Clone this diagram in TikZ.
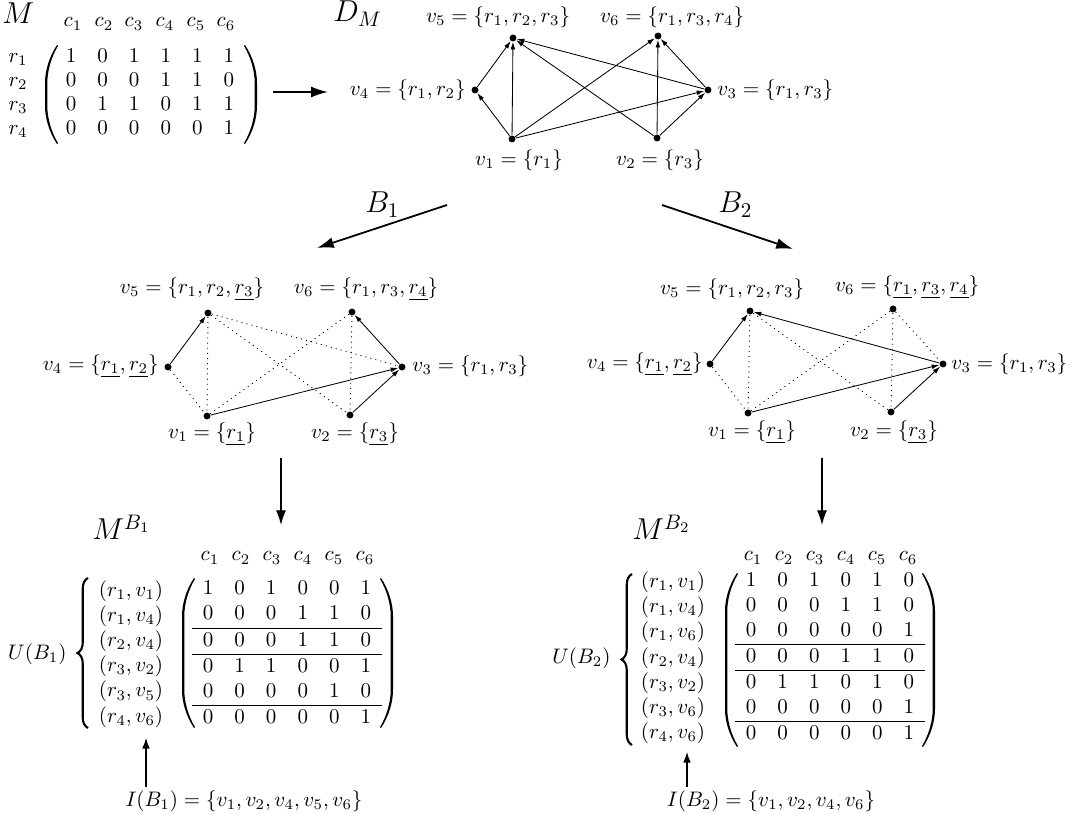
\documentclass[tikz,border=0pt]{standalone}
\usetikzlibrary{arrows.meta,decorations.pathreplacing}
% left / right parenthesis drawn as filled shapes: #1 outer x, #2 top y, #3 bottom y
\newcommand{\lparenat}[3]{%
  \fill (#1+12,#2) .. controls (#1+4,#2+12) and (#1,#2+26) .. (#1,#2+38)
    -- (#1,#3-38) .. controls (#1,#3-26) and (#1+4,#3-12) .. (#1+12,#3)
    -- (#1+13,#3-0.9) .. controls (#1+6.3,#3-12) and (#1+2.3,#3-26) .. (#1+2.3,#3-38)
    -- (#1+2.3,#2+38) .. controls (#1+2.3,#2+26) and (#1+6.3,#2+12) .. (#1+13,#2+0.9) -- cycle;}
\newcommand{\rparenat}[3]{%
  \fill (#1-12,#2) .. controls (#1-4,#2+12) and (#1,#2+26) .. (#1,#2+38)
    -- (#1,#3-38) .. controls (#1,#3-26) and (#1-4,#3-12) .. (#1-12,#3)
    -- (#1-13,#3-0.9) .. controls (#1-6.3,#3-12) and (#1-2.3,#3-26) .. (#1-2.3,#3-38)
    -- (#1-2.3,#2+38) .. controls (#1-2.3,#2+26) and (#1-6.3,#2+12) .. (#1-13,#2+0.9) -- cycle;}
\begin{document}
\begin{tikzpicture}[x=0.476pt,y=-0.476pt,
  vtx/.style={circle,fill=black,inner sep=0pt,minimum size=3.3pt},
  lbl/.style={inner sep=0pt},
  arc/.style={-{Latex[length=3.6pt,width=2.3pt]},line width=0.4pt},
  dotedge/.style={dotted,line width=0.45pt},
  bigarrow/.style={-{Latex[length=8pt,width=5.2pt]},line width=0.85pt},
  downarrow/.style={-{Latex[length=7pt,width=4.8pt]},line width=0.6pt},
  uparrow/.style={-{Latex[length=5pt,width=3.6pt]},line width=0.5pt},
  curly/.style={decorate,decoration={brace,amplitude=5pt,aspect=0.5},line width=1pt},
  biglbl/.style={inner sep=0pt,font=\Large}]
\useasboundingbox (0,0) rectangle (1074,814);

% ---------- top matrix M ----------
\node[biglbl,anchor=base west] (Mlbl) at (2,24) {$M$};
\foreach \i/\x in {1/73,2/104,3/134,4/165,5/196,6/226}
  \node[lbl] (mc\i) at (\x,24) {$c_{\i}$};
\node[lbl] (M0r) at (18,93.5) {\renewcommand\arraystretch{0.95}$\begin{array}{c}r_1\\ r_2\\ r_3\\ r_4\end{array}$};
\node[lbl] (M0) at (150,93.5) {\renewcommand\arraystretch{0.95}$\begin{array}{cccccc}
1&0&1&1&1&1\\ 0&0&0&1&1&0\\ 0&1&1&0&1&1\\ 0&0&0&0&0&1\end{array}$};
\lparenat{45}{45}{144}
\rparenat{257}{45}{144}
\coordinate (aMs) at (273,92);
\coordinate (aMe) at (328,92);
\draw[bigarrow] (aMs) -- (aMe);

% ---------- D_M ----------
\node[biglbl,anchor=base west] (DMlbl) at (333,22) {$D_M$};
\node[vtx] (a5) at (513,38) {};
\node[vtx] (a6) at (658,36) {};
\node[vtx] (a4) at (475,90) {};
\node[vtx] (a3) at (708,90) {};
\node[vtx] (a1) at (512,139) {};
\node[vtx] (a2) at (657,138) {};
\node[lbl] (la5) at (498,17) {$v_5=\{r_1,r_2,r_3\}$};
\node[lbl] (la6) at (672,17) {$v_6=\{r_1,r_3,r_4\}$};
\node[lbl,anchor=east] (la4) at (466,90) {$v_4=\{r_1,r_2\}$};
\node[lbl,anchor=west] (la3) at (717,90) {$v_3=\{r_1,r_3\}$};
\node[lbl] (la1) at (519,160) {$v_1=\{r_1\}$};
\node[lbl] (la2) at (660,160) {$v_2=\{r_3\}$};
\draw[arc] (a4) -- (a5);
\draw[arc] (a1) -- (a4);
\draw[arc] (a1) -- (a5);
\draw[arc] (a1) -- (a6);
\draw[arc] (a1) -- (a3);
\draw[arc] (a2) -- (a5);
\draw[arc] (a2) -- (a6);
\draw[arc] (a2) -- (a3);
\draw[arc] (a3) -- (a5);
\draw[arc] (a3) -- (a6);

% ---------- branch arrows ----------
\coordinate (b1s) at (447,205);
\coordinate (b1e) at (317,248);
\coordinate (b2s) at (662,205);
\coordinate (b2e) at (793,249);
\draw[bigarrow] (b1s) -- (b1e);
\draw[bigarrow] (b2s) -- (b2e);
\node[biglbl,anchor=base west] (B1lbl) at (365,213) {$B_1$};
\node[biglbl,anchor=base west] (B2lbl) at (718,213) {$B_2$};

% ---------- graph B1 ----------
\node[vtx] (p5) at (208,313) {};
\node[vtx] (p6) at (352,312) {};
\node[vtx] (p4) at (168,367) {};
\node[vtx] (p3) at (402,367) {};
\node[vtx] (p1) at (207,416) {};
\node[vtx] (p2) at (350,415) {};
\node[lbl] (lp5) at (192,289) {$v_5=\{r_1,r_2,\underline{r_3}\}$};
\node[lbl] (lp6) at (366,289) {$v_6=\{r_1,r_3,\underline{r_4}\}$};
\node[lbl,anchor=east] (lp4) at (159,366) {$v_4=\{\underline{r_1},\underline{r_2}\}$};
\node[lbl,anchor=west] (lp3) at (412,366) {$v_3=\{r_1,r_3\}$};
\node[lbl] (lp1) at (212,434) {$v_1=\{\underline{r_1}\}$};
\node[lbl] (lp2) at (355,434) {$v_2=\{\underline{r_3}\}$};
\draw[arc] (p4) -- (p5);
\draw[arc] (p1) -- (p3);
\draw[arc] (p2) -- (p3);
\draw[arc] (p3) -- (p6);
\draw[dotedge] (p5) -- (p1);
\draw[dotedge] (p5) -- (p3);
\draw[dotedge] (p5) -- (p2);
\draw[dotedge] (p4) -- (p1);
\draw[dotedge] (p1) -- (p6);
\draw[dotedge] (p6) -- (p2);

% ---------- graph B2 ----------
\node[vtx] (q5) at (750,311) {};
\node[vtx] (q6) at (893,309) {};
\node[vtx] (q4) at (710,364) {};
\node[vtx] (q3) at (943,364) {};
\node[vtx] (q1) at (748,413) {};
\node[vtx] (q2) at (891,412) {};
\node[lbl] (lq5) at (732,289) {$v_5=\{r_1,r_2,r_3\}$};
\node[lbl] (lq6) at (907,287) {$v_6=\{\underline{r_1},\underline{r_3},\underline{r_4}\}$};
\node[lbl,anchor=east] (lq4) at (703,364) {$v_4=\{\underline{r_1},\underline{r_2}\}$};
\node[lbl,anchor=west] (lq3) at (951,364) {$v_3=\{r_1,r_3\}$};
\node[lbl] (lq1) at (752,432) {$v_1=\{\underline{r_1}\}$};
\node[lbl] (lq2) at (894,432) {$v_2=\{\underline{r_3}\}$};
\draw[arc] (q4) -- (q5);
\draw[arc] (q3) -- (q5);
\draw[arc] (q1) -- (q3);
\draw[arc] (q2) -- (q3);
\draw[dotedge] (q4) -- (q1);
\draw[dotedge] (q5) -- (q1);
\draw[dotedge] (q5) -- (q2);
\draw[dotedge] (q1) -- (q6);
\draw[dotedge] (q6) -- (q2);
\draw[dotedge] (q6) -- (q3);

% ---------- down arrows ----------
\coordinate (d1s) at (281,458);
\coordinate (d1e) at (281,525);
\coordinate (d2s) at (822,458);
\coordinate (d2e) at (822,525);
\draw[downarrow] (d1s) -- (d1e);
\draw[downarrow] (d2s) -- (d2e);

% ---------- matrix M^{B1} ----------
\node[biglbl,anchor=base west] (MB1lbl) at (92,540) {$M^{B_1}$};
\foreach \i/\x in {1/210,2/241,3/272,4/303,5/334,6/365}
  \node[lbl] (m1c\i) at (\x,558) {$c_{\i}$};
\node[lbl,anchor=east] (UB1) at (67,654) {$U(B_1)$};
\node[lbl] (MB1r) at (131,654) {$\begin{array}{c}
(r_1,v_1)\\ (r_1,v_4)\\ (r_2,v_4)\\ (r_3,v_2)\\ (r_3,v_5)\\ (r_4,v_6)\end{array}$};
\coordinate (br1b) at (88,728);
\coordinate (br1t) at (88,578);
\draw[curly] (br1b) -- (br1t);
\node[lbl] (MB1) at (287,654) {$\begin{array}{cccccc}
1&0&1&0&0&1\\ 0&0&0&1&1&0\\ \hline 0&0&0&1&1&0\\ \hline 0&1&1&0&0&1\\ 0&0&0&0&1&0\\ \hline 0&0&0&0&0&1\end{array}$};
\lparenat{182}{578}{728}
\rparenat{393}{578}{728}
\node[lbl] (IB1) at (244,801) {$I(B_1)=\{v_1,v_2,v_4,v_5,v_6\}$};
\coordinate (u1s) at (146,787);
\coordinate (u1e) at (146,738);
\draw[uparrow] (u1s) -- (u1e);

% ---------- matrix M^{B2} ----------
\node[biglbl,anchor=base west] (MB2lbl) at (632,540) {$M^{B_2}$};
\foreach \i/\x in {1/753,2/784,3/815,4/846,5/877,6/908}
  \node[lbl] (m2c\i) at (\x,558) {$c_{\i}$};
\node[lbl,anchor=east] (UB2) at (611,658) {$U(B_2)$};
\node[lbl] (MB2r) at (673,658) {$\begin{array}{c}
(r_1,v_1)\\ (r_1,v_4)\\ (r_1,v_6)\\ (r_2,v_4)\\ (r_3,v_2)\\ (r_3,v_6)\\ (r_4,v_6)\end{array}$};
\coordinate (br2b) at (632,745);
\coordinate (br2t) at (632,574);
\draw[curly] (br2b) -- (br2t);
\node[lbl] (MB2) at (830,658) {$\begin{array}{cccccc}
1&0&1&0&1&0\\ 0&0&0&1&1&0\\ 0&0&0&0&0&1\\ \hline 0&0&0&1&1&0\\ \hline 0&1&1&0&1&0\\ 0&0&0&0&0&1\\ \hline 0&0&0&0&0&1\end{array}$};
\lparenat{725}{573}{747}
\rparenat{935}{573}{747}
\node[lbl] (IB2) at (771,801) {$I(B_2)=\{v_1,v_2,v_4,v_6\}$};
\coordinate (u2s) at (687,787);
\coordinate (u2e) at (687,752);
\draw[uparrow] (u2s) -- (u2e);
\end{tikzpicture}
\end{document}
